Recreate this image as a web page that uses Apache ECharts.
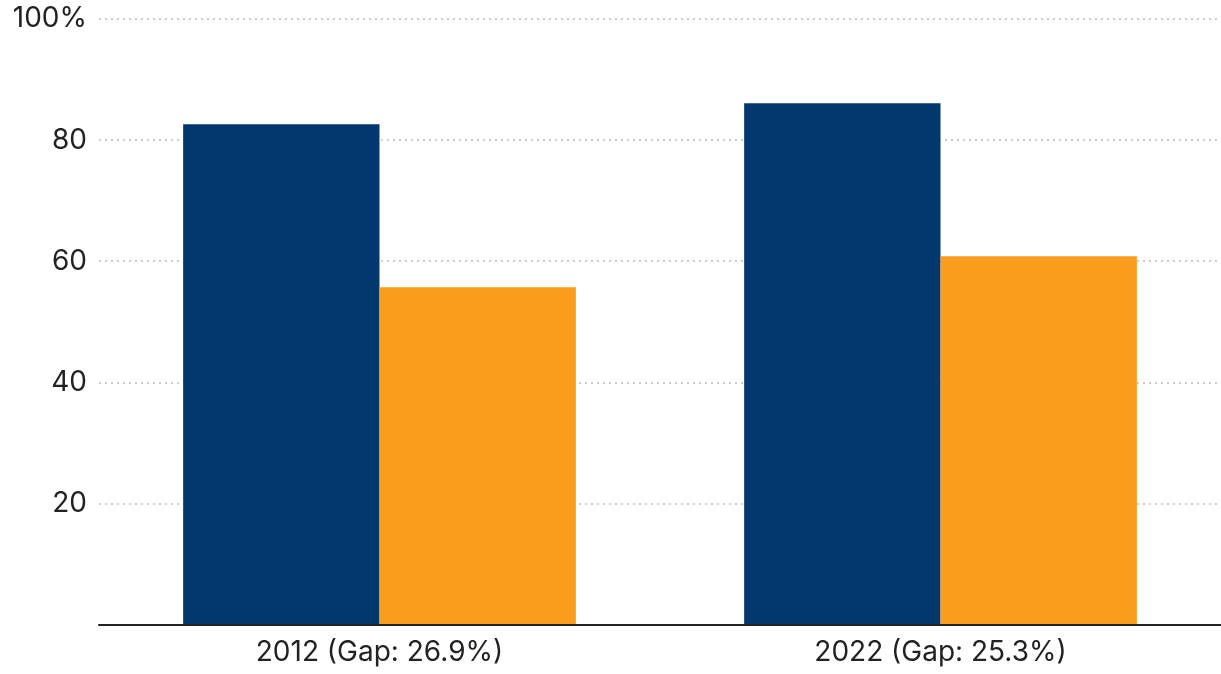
<!DOCTYPE html>
<html>
<head>
<meta charset="utf-8">
<script src="https://cdn.jsdelivr.net/npm/echarts@6/dist/echarts.min.js"></script>
<style>
html,body{margin:0;padding:0;background:#fff;}
#c{width:1221px;height:674px;}
</style>
</head>
<body>
<div id="c"></div>
<script>
var categories = ['2012 (Gap: 26.9%)', '2022 (Gap: 25.3%)'];
var seriesA = [82.6, 86.1];
var seriesB = [55.7, 60.8];
var yTicks = [0, 20, 40, 60, 80, 100];

var chart = echarts.init(document.getElementById('c'), null, {renderer: 'canvas'});
chart.setOption({
  animation: false,
  backgroundColor: '#ffffff',
  textStyle: {fontFamily: 'Inter, "Noto Sans", sans-serif'},
  grid: {left: 99, right: 0, top: 19, bottom: 49.5, containLabel: false},
  xAxis: {
    type: 'category',
    data: categories,
    axisLine: {show: true, lineStyle: {color: '#222', width: 2}},
    axisTick: {show: false},
    axisLabel: {fontSize: 28, color: '#222', margin: 14, fontFamily: 'Inter, "Noto Sans", sans-serif'},
    z: 5
  },
  yAxis: {
    type: 'value',
    min: yTicks[0],
    max: yTicks[yTicks.length - 1],
    interval: 20,
    axisLine: {show: false},
    axisTick: {show: false},
    axisLabel: {
      fontSize: 28, color: '#222', margin: 12,
      fontFamily: 'Inter, "Noto Sans", sans-serif',
      formatter: function (v) { return v === 0 ? '' : (v === 100 ? v + '%' : String(v)); }
    },
    splitLine: {show: true, lineStyle: {color: '#bdbdbd', type: [2, 4], width: 1.5}}
  },
  series: [
    {type: 'bar', data: seriesA, barGap: '0%', barCategoryGap: '30%', itemStyle: {color: '#02386e'}},
    {type: 'bar', data: seriesB, barGap: '0%', barCategoryGap: '30%', itemStyle: {color: '#fa9c1e'}}
  ]
});
</script>
</body>
</html>
